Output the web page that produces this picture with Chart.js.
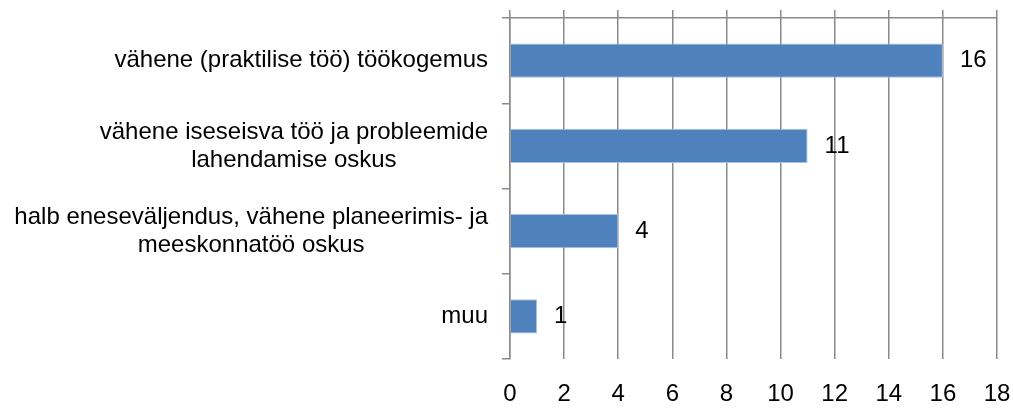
<!DOCTYPE html>
<html>
<head>
<meta charset="utf-8">
<script src="https://cdn.jsdelivr.net/npm/chart.js@4/dist/chart.umd.min.js"></script>
<style>
  html, body { margin: 0; padding: 0; background: #fff; overflow: hidden; }
  #wrap { width: 1013px; height: 409px; }
</style>
</head>
<body>
<div id="wrap"><canvas id="chart" width="1013" height="409" style="display:block"></canvas></div>
<script>
// Data
const categories = [
  ["vähene (praktilise töö) töökogemus"],
  ["vähene iseseisva töö ja probleemide", "lahendamise oskus"],
  ["halb eneseväljendus, vähene planeerimis- ja", "meeskonnatöö oskus"],
  ["muu"],
];
const counts = [16, 11, 4, 1];
const xMin = 0;
const xMax = 18;
const xStep = 2;

const FONT = '"Liberation Sans", Arial, sans-serif';
const gridGray = "#8a8a8a";

// Category labels: block right aligned, lines centred inside the block
const categoryLabelPlugin = {
  id: "categoryLabels",
  afterDraw(chart) {
    const ctx = chart.ctx;
    const yScale = chart.scales.y;
    const right = chart.chartArea.left - 22;
    const lineH = 28;
    ctx.save();
    ctx.font = "24px " + FONT;
    ctx.fillStyle = "#000";
    ctx.textAlign = "center";
    ctx.textBaseline = "middle";
    categories.forEach((lines, i) => {
      const cy = yScale.getPixelForValue(i);
      const maxW = Math.max(...lines.map((l) => ctx.measureText(l).width));
      const cx = right - maxW / 2;
      const y0 = cy - ((lines.length - 1) * lineH) / 2;
      lines.forEach((l, j) => ctx.fillText(l, cx, y0 + j * lineH));
    });
    ctx.restore();
  },
};

// Value labels just right of each bar
const valueLabelPlugin = {
  id: "valueLabels",
  afterDatasetsDraw(chart) {
    const ctx = chart.ctx;
    const meta = chart.getDatasetMeta(0);
    ctx.save();
    ctx.font = "24px " + FONT;
    ctx.fillStyle = "#000";
    ctx.textAlign = "left";
    ctx.textBaseline = "middle";
    meta.data.forEach((bar, i) => {
      ctx.fillText(String(counts[i]), bar.x + 17, bar.y);
    });
    ctx.restore();
  },
};

new Chart(document.getElementById("chart"), {
  type: "bar",
  data: {
    labels: categories,
    datasets: [
      {
        data: counts,
        backgroundColor: "#4f81bd",
        borderColor: "#a9c0de",
        borderWidth: 1,
        categoryPercentage: 1,
        barPercentage: 0.4,
      },
    ],
  },
  options: {
    indexAxis: "y",
    responsive: false,
    animation: false,
    layout: { padding: { top: 10, right: 16, left: 0, bottom: 0 } },
    plugins: {
      legend: { display: false },
      tooltip: { enabled: false },
    },
    scales: {
      x: {
        position: "bottom",
        min: xMin,
        max: xMax,
        ticks: {
          stepSize: xStep,
          padding: 21,
          color: "#000",
          font: { family: FONT, size: 24 },
          maxRotation: 0,
        },
        grid: { color: gridGray, lineWidth: 1.5, drawTicks: false },
        border: { display: false },
        afterFit(scale) {
          // keep the plot box where the reference has it
          scale.height = 50;
          scale.paddingLeft = 0;
          scale.paddingRight = 0;
        },
      },
      x2: {
        position: "top",
        min: xMin,
        max: xMax,
        ticks: { stepSize: xStep, display: false },
        grid: {
          color: gridGray,
          lineWidth: 1.5,
          drawOnChartArea: false,
          tickLength: 8,
        },
        border: { display: true, color: gridGray, width: 1.5 },
      },
      y: {
        ticks: { display: false },
        grid: {
          offset: true,
          color: gridGray,
          lineWidth: 1.5,
          drawOnChartArea: false,
          tickLength: 8,
        },
        border: { display: true, color: gridGray, width: 1.5 },
        afterFit(scale) {
          scale.width = 510;
        },
      },
    },
  },
  plugins: [categoryLabelPlugin, valueLabelPlugin],
});
</script>
</body>
</html>
